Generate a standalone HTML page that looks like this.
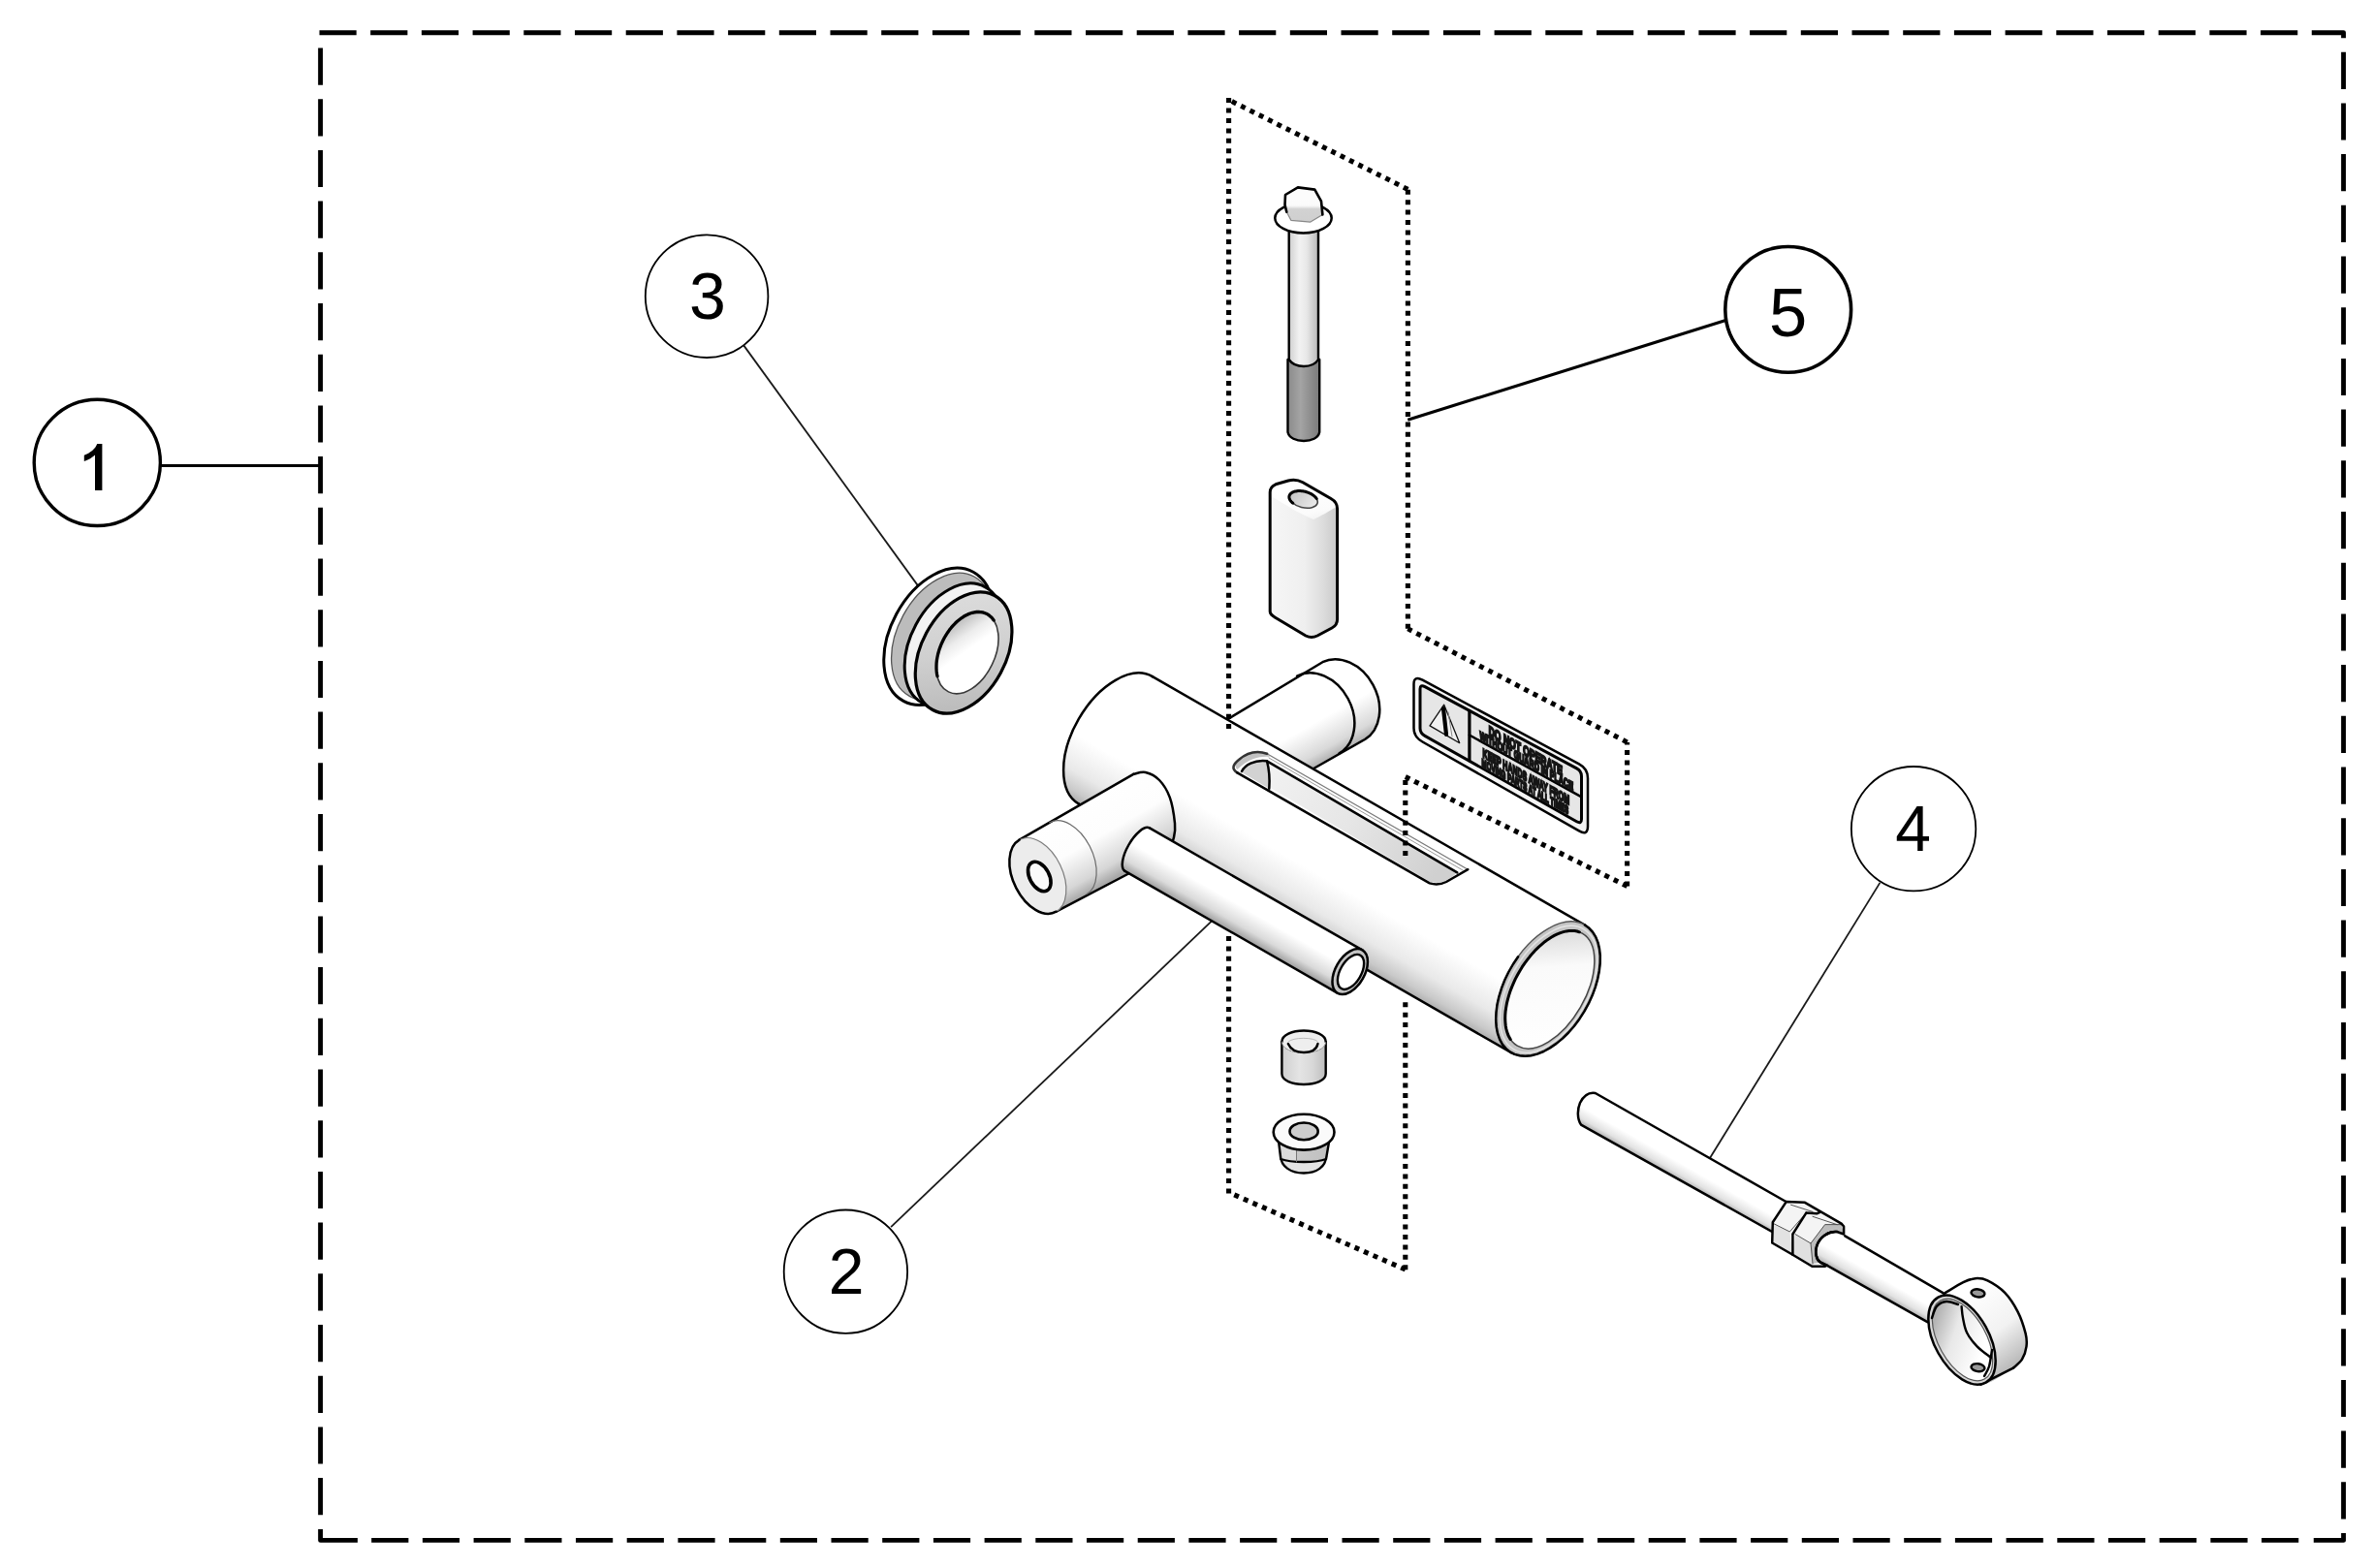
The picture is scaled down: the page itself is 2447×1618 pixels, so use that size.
<!DOCTYPE html>
<html><head><meta charset="utf-8"><title>Parts diagram</title>
<style>
html,body{margin:0;padding:0;background:#fff;width:2447px;height:1618px;overflow:hidden}
svg{position:absolute;left:0;top:0;display:block}
</style></head><body>
<svg width="2447" height="1618" viewBox="0 0 2447 1618">
<defs><linearGradient id="gArm" gradientUnits="userSpaceOnUse" x1="1318" y1="716" x2="1362" y2="794"><stop offset="0" stop-color="#fff"/><stop offset="0.5" stop-color="#fff"/><stop offset="0.82" stop-color="#d9d9d9"/><stop offset="1" stop-color="#a0a0a0"/></linearGradient>
<linearGradient id="gMain" gradientUnits="userSpaceOnUse" x1="1188.9" y1="698.1" x2="1112.9" y2="829.7"><stop offset="0" stop-color="#fff"/><stop offset="0.6" stop-color="#fff"/><stop offset="0.82" stop-color="#e9e9e9"/><stop offset="0.94" stop-color="#c9c9c9"/><stop offset="1" stop-color="#adadad"/></linearGradient>
<linearGradient id="gSlot" gradientUnits="userSpaceOnUse" x1="1300" y1="800" x2="1480" y2="905"><stop offset="0" stop-color="#f2f2f2"/><stop offset="0.5" stop-color="#e6e6e6"/><stop offset="1" stop-color="#d0d0d0"/></linearGradient>
<linearGradient id="gIn" gradientUnits="userSpaceOnUse" x1="1557" y1="960.4" x2="1637" y2="1080.4"><stop offset="0" stop-color="#d0d0d0"/><stop offset="0.35" stop-color="#fafafa"/><stop offset="1" stop-color="#ffffff"/></linearGradient>
<linearGradient id="gSide" gradientUnits="userSpaceOnUse" x1="1110" y1="825" x2="1155" y2="903"><stop offset="0" stop-color="#fff"/><stop offset="0.5" stop-color="#fdfdfd"/><stop offset="0.85" stop-color="#d6d6d6"/><stop offset="1" stop-color="#a8a8a8"/></linearGradient>
<linearGradient id="gSmall" gradientUnits="userSpaceOnUse" x1="1185.5" y1="854.2" x2="1160.1" y2="898.6"><stop offset="0" stop-color="#fff"/><stop offset="0.45" stop-color="#fff"/><stop offset="0.8" stop-color="#dadada"/><stop offset="1" stop-color="#9e9e9e"/></linearGradient>
<linearGradient id="gGrF" gradientUnits="userSpaceOnUse" x1="960" y1="620" x2="1035" y2="730"><stop offset="0" stop-color="#dcdcdc"/><stop offset="0.5" stop-color="#cfcfcf"/><stop offset="1" stop-color="#b8b8b8"/></linearGradient>
<linearGradient id="gGrH" gradientUnits="userSpaceOnUse" x1="968" y1="660" x2="995" y2="675"><stop offset="0" stop-color="#bdbdbd"/><stop offset="0.55" stop-color="#ececec"/><stop offset="1" stop-color="#ffffff"/></linearGradient>
<linearGradient id="gShaft" gradientUnits="userSpaceOnUse" x1="1329.7" y1="0" x2="1360" y2="0"><stop offset="0" stop-color="#cfcfcf"/><stop offset="0.35" stop-color="#f2f2f2"/><stop offset="0.6" stop-color="#e8e8e8"/><stop offset="1" stop-color="#b9b9b9"/></linearGradient>
<linearGradient id="gThread" gradientUnits="userSpaceOnUse" x1="1328.5" y1="0" x2="1361.2" y2="0"><stop offset="0" stop-color="#8a8a8a"/><stop offset="0.4" stop-color="#a4a4a4"/><stop offset="1" stop-color="#7a7a7a"/></linearGradient>
<linearGradient id="gHexB" gradientUnits="userSpaceOnUse" x1="0" y1="205" x2="0" y2="229"><stop offset="0" stop-color="#fcfcfc"/><stop offset="0.3" stop-color="#fafafa"/><stop offset="0.45" stop-color="#d2d2d2"/><stop offset="1" stop-color="#cfcfcf"/></linearGradient>
<linearGradient id="gSpc" gradientUnits="userSpaceOnUse" x1="1312" y1="0" x2="1380" y2="0"><stop offset="0" stop-color="#f6f6f6"/><stop offset="0.5" stop-color="#efefef"/><stop offset="0.78" stop-color="#dcdcdc"/><stop offset="1" stop-color="#c8c8c8"/></linearGradient>
<linearGradient id="gSpcT" gradientUnits="userSpaceOnUse" x1="1340" y1="500" x2="1350" y2="540"><stop offset="0" stop-color="#ffffff"/><stop offset="0.75" stop-color="#fbfbfb"/><stop offset="1" stop-color="#f2f2f2"/></linearGradient>
<linearGradient id="gSpcH" gradientUnits="userSpaceOnUse" x1="1332" y1="510" x2="1358" y2="522"><stop offset="0" stop-color="#c4c4c4"/><stop offset="1" stop-color="#ececec"/></linearGradient>
<filter id="gs" x="-10%" y="-10%" width="120%" height="120%"><feColorMatrix type="saturate" values="0"/></filter>
<linearGradient id="gBush" gradientUnits="userSpaceOnUse" x1="1322.4" y1="0" x2="1367.7" y2="0"><stop offset="0" stop-color="#cfcfcf"/><stop offset="0.4" stop-color="#e4e4e4"/><stop offset="0.7" stop-color="#d8d8d8"/><stop offset="1" stop-color="#bdbdbd"/></linearGradient>
<linearGradient id="gNut" gradientUnits="userSpaceOnUse" x1="1319" y1="0" x2="1371" y2="0"><stop offset="0" stop-color="#d8d8d8"/><stop offset="0.35" stop-color="#dcdcdc"/><stop offset="0.36" stop-color="#c8c8c8"/><stop offset="1" stop-color="#c0c0c0"/></linearGradient>
<linearGradient id="gRod" gradientUnits="userSpaceOnUse" x1="1645.8" y1="1128" x2="1628.5" y2="1158.4"><stop offset="0" stop-color="#fff"/><stop offset="0.55" stop-color="#fff"/><stop offset="0.85" stop-color="#e2e2e2"/><stop offset="1" stop-color="#b4b4b4"/></linearGradient>
<linearGradient id="gRod2" gradientUnits="userSpaceOnUse" x1="1903.3" y1="1275.3" x2="1886" y2="1305.7"><stop offset="0" stop-color="#fff"/><stop offset="0.55" stop-color="#fff"/><stop offset="0.85" stop-color="#e2e2e2"/><stop offset="1" stop-color="#b4b4b4"/></linearGradient>
<linearGradient id="gRingB" gradientUnits="userSpaceOnUse" x1="2035" y1="1330" x2="2095" y2="1410"><stop offset="0" stop-color="#ffffff"/><stop offset="0.5" stop-color="#f2f2f2"/><stop offset="1" stop-color="#a9a9a9"/></linearGradient>
<linearGradient id="gRingI" gradientUnits="userSpaceOnUse" x1="1995" y1="1350" x2="2040" y2="1400"><stop offset="0" stop-color="#9c9c9c"/><stop offset="0.5" stop-color="#e8e8e8"/><stop offset="1" stop-color="#ffffff"/></linearGradient></defs>
<path d="M329.5,33.8 L367.7,33.8 M382.2,33.8 L420.4,33.8 M434.9,33.8 L473.1,33.8 M487.6,33.8 L525.8,33.8 M540.3,33.8 L578.5,33.8 M593,33.8 L631.2,33.8 M645.7,33.8 L683.9,33.8 M698.4,33.8 L736.6,33.8 M751.1,33.8 L789.3,33.8 M803.8,33.8 L842,33.8 M856.5,33.8 L894.7,33.8 M909.2,33.8 L947.4,33.8 M961.9,33.8 L1000.1,33.8 M1014.6,33.8 L1052.8,33.8 M1067.3,33.8 L1105.5,33.8 M1120,33.8 L1158.2,33.8 M1172.7,33.8 L1210.9,33.8 M1225.4,33.8 L1263.6,33.8 M1278.1,33.8 L1316.3,33.8 M1330.8,33.8 L1369,33.8 M1383.5,33.8 L1421.7,33.8 M1436.2,33.8 L1474.4,33.8 M1488.9,33.8 L1527.1,33.8 M1541.6,33.8 L1579.8,33.8 M1594.3,33.8 L1632.5,33.8 M1647,33.8 L1685.2,33.8 M1699.7,33.8 L1737.9,33.8 M1752.4,33.8 L1790.6,33.8 M1805.1,33.8 L1843.3,33.8 M1857.8,33.8 L1896,33.8 M1910.5,33.8 L1948.7,33.8 M1963.2,33.8 L2001.4,33.8 M2015.9,33.8 L2054.1,33.8 M2068.6,33.8 L2106.8,33.8 M2121.3,33.8 L2159.5,33.8 M2174,33.8 L2212.2,33.8 M2226.7,33.8 L2264.9,33.8 M2279.4,33.8 L2317.6,33.8 M2332.1,33.8 L2370.3,33.8 M2384.8,33.8 L2417.6,33.8 L2417.6,39.2 M2417.6,53.7 L2417.6,91.9 M2417.6,106.4 L2417.6,144.6 M2417.6,159.1 L2417.6,197.3 M2417.6,211.8 L2417.6,250 M2417.6,264.5 L2417.6,302.7 M2417.6,317.2 L2417.6,355.4 M2417.6,369.9 L2417.6,408.1 M2417.6,422.6 L2417.6,460.8 M2417.6,475.3 L2417.6,513.5 M2417.6,528 L2417.6,566.2 M2417.6,580.7 L2417.6,618.9 M2417.6,633.4 L2417.6,671.6 M2417.6,686.1 L2417.6,724.3 M2417.6,738.8 L2417.6,777 M2417.6,791.5 L2417.6,829.7 M2417.6,844.2 L2417.6,882.4 M2417.6,896.9 L2417.6,935.1 M2417.6,949.6 L2417.6,987.8 M2417.6,1002.3 L2417.6,1040.5 M2417.6,1055 L2417.6,1093.2 M2417.6,1107.7 L2417.6,1145.9 M2417.6,1160.4 L2417.6,1198.6 M2417.6,1213.1 L2417.6,1251.3 M2417.6,1265.8 L2417.6,1304 M2417.6,1318.5 L2417.6,1356.7 M2417.6,1371.2 L2417.6,1409.4 M2417.6,1423.9 L2417.6,1462.1 M2417.6,1476.6 L2417.6,1514.8 M2417.6,1529.3 L2417.6,1567.5 M2417.6,1582 L2417.6,1589.4 L2386.8,1589.4 M383.2,1589.4 L421.4,1589.4 M435.9,1589.4 L474.1,1589.4 M488.6,1589.4 L526.8,1589.4 M541.3,1589.4 L579.5,1589.4 M594,1589.4 L632.2,1589.4 M646.7,1589.4 L684.9,1589.4 M699.4,1589.4 L737.6,1589.4 M752.1,1589.4 L790.3,1589.4 M804.8,1589.4 L843,1589.4 M857.5,1589.4 L895.7,1589.4 M910.2,1589.4 L948.4,1589.4 M962.9,1589.4 L1001.1,1589.4 M1015.6,1589.4 L1053.8,1589.4 M1068.3,1589.4 L1106.5,1589.4 M1121,1589.4 L1159.2,1589.4 M1173.7,1589.4 L1211.9,1589.4 M1226.4,1589.4 L1264.6,1589.4 M1279.1,1589.4 L1317.3,1589.4 M1331.8,1589.4 L1370,1589.4 M1384.5,1589.4 L1422.7,1589.4 M1437.2,1589.4 L1475.4,1589.4 M1489.9,1589.4 L1528.1,1589.4 M1542.6,1589.4 L1580.8,1589.4 M1595.3,1589.4 L1633.5,1589.4 M1648,1589.4 L1686.2,1589.4 M1700.7,1589.4 L1738.9,1589.4 M1753.4,1589.4 L1791.6,1589.4 M1806.1,1589.4 L1844.3,1589.4 M1858.8,1589.4 L1897,1589.4 M1911.5,1589.4 L1949.7,1589.4 M1964.2,1589.4 L2002.4,1589.4 M2016.9,1589.4 L2055.1,1589.4 M2069.6,1589.4 L2107.8,1589.4 M2122.3,1589.4 L2160.5,1589.4 M2175,1589.4 L2213.2,1589.4 M2227.7,1589.4 L2265.9,1589.4 M2280.4,1589.4 L2318.6,1589.4 M2333.1,1589.4 L2371.3,1589.4 M368.9,1589.4 L330.6,1589.4 L330.6,1578 M330.6,49.5 L330.6,87.7 M330.6,102.2 L330.6,140.4 M330.6,154.9 L330.6,193.1 M330.6,207.6 L330.6,245.8 M330.6,260.3 L330.6,298.5 M330.6,313 L330.6,351.2 M330.6,365.7 L330.6,403.9 M330.6,418.4 L330.6,456.6 M330.6,471.1 L330.6,509.3 M330.6,523.8 L330.6,562 M330.6,576.5 L330.6,614.7 M330.6,629.2 L330.6,667.4 M330.6,681.9 L330.6,720.1 M330.6,734.6 L330.6,772.8 M330.6,787.3 L330.6,825.5 M330.6,840 L330.6,878.2 M330.6,892.7 L330.6,930.9 M330.6,945.4 L330.6,983.6 M330.6,998.1 L330.6,1036.3 M330.6,1050.8 L330.6,1089 M330.6,1103.5 L330.6,1141.7 M330.6,1156.2 L330.6,1194.4 M330.6,1208.9 L330.6,1247.1 M330.6,1261.6 L330.6,1299.8 M330.6,1314.3 L330.6,1352.5 M330.6,1367 L330.6,1405.2 M330.6,1419.7 L330.6,1457.9 M330.6,1472.4 L330.6,1510.6 M330.6,1525.1 L330.6,1563.3" fill="none" stroke="#000" stroke-width="4.9" stroke-linejoin="round"/>
<line x1="166" y1="480.5" x2="330" y2="480.5" stroke="#000" stroke-width="3"/>
<line x1="767.4" y1="356.6" x2="950.6" y2="609.4" stroke="#1a1a1a" stroke-width="1.8"/>
<line x1="1779.5" y1="330.7" x2="1452.3" y2="433.3" stroke="#000" stroke-width="3"/>
<line x1="1939.4" y1="910.9" x2="1761.8" y2="1198.5" stroke="#1a1a1a" stroke-width="1.8"/>
<line x1="919.1" y1="1266.2" x2="1256.6" y2="944.2" stroke="#1a1a1a" stroke-width="1.8"/>
<circle cx="100.3" cy="477.4" r="65.1" fill="#fff" stroke="#000" stroke-width="3.4"/>
<text x="96" y="505.9" font-family="Liberation Sans, sans-serif" font-size="66" text-anchor="middle" fill="#000"></text>
<path d="M98,505.9 L105.4,505.9 L105.4,458 L100.2,458 C98.5,463 93,467.5 86.8,469.8 L86.8,476 C91,474.6 95.5,472 98,469.5 Z" fill="#000"/>
<circle cx="729.1" cy="305.7" r="63.3" fill="#fff" stroke="#000" stroke-width="1.8"/>
<text x="729.8" y="329.1" font-family="Liberation Sans, sans-serif" font-size="68" text-anchor="middle" fill="#000">3</text>
<circle cx="1844.7" cy="319.4" r="64.9" fill="#fff" stroke="#000" stroke-width="3.6"/>
<text x="1844.5" y="347.3" font-family="Liberation Sans, sans-serif" font-size="70.5" text-anchor="middle" fill="#000">5</text>
<circle cx="1974.1" cy="855.2" r="64.2" fill="#fff" stroke="#000" stroke-width="1.8"/>
<text x="1973.5" y="878.2" font-family="Liberation Sans, sans-serif" font-size="66" text-anchor="middle" fill="#000">4</text>
<circle cx="872.4" cy="1312.2" r="63.7" fill="#fff" stroke="#000" stroke-width="1.8"/>
<text x="873" y="1334.7" font-family="Liberation Sans, sans-serif" font-size="66" text-anchor="middle" fill="#000">2</text>
<path d="M1266.8,742 L1364.4,683.2 A35.8,45.5 -28.6 0 1 1408,763 L1350,796 L1300,775 Z" fill="url(#gArm)" stroke="none" stroke-width="2.6" stroke-linejoin="round" stroke-linecap="round"/>
<path d="M1266.8,742 L1364.4,683.2 A35.8,45.5 -28.6 0 1 1408,763 L1350,796" fill="none" stroke="#000" stroke-width="2.5" stroke-linejoin="round" stroke-linecap="round"/>
<path d="M1338.1,697.5 A35.8,45.5 -28.6 0 1 1381.6,777.4" fill="none" stroke="#000" stroke-width="2.5" stroke-linejoin="round" stroke-linecap="round"/>
<path d="M1188.9,698.1 L1635,954.6 A44,76 30 0 1 1635.1,1042.4 A44,76 30 0 1 1559,1086.2 L1112.9,829.7 A44,76 30 0 1 1112.8,741.9 A44,76 30 0 1 1188.9,698.1 Z" fill="url(#gMain)" stroke="none" stroke-width="2.6" stroke-linejoin="round" stroke-linecap="round"/>
<path d="M1188.9,698.1 L1635,954.6" fill="none" stroke="#000" stroke-width="2.5" stroke-linejoin="round" stroke-linecap="round"/>
<path d="M1112.9,829.7 L1559,1086.2" fill="none" stroke="#000" stroke-width="2.5" stroke-linejoin="round" stroke-linecap="round"/>
<path d="M1188.9,698.1 A44,76 30 0 0 1112.8,741.9 A44,76 30 0 0 1112.9,829.7" fill="none" stroke="#000" stroke-width="2.5" stroke-linejoin="round" stroke-linecap="round"/>
<path d="M1276.4,797.4 C1270,793 1272,789 1278,784 C1286,777 1296,774 1307.1,777.7 L1514.3,897.2 C1508,904 1498,912 1483.6,912.5 C1480,912.5 1477,912 1474.8,911.4 Z" fill="#fff" stroke="none" stroke-width="2.6" stroke-linejoin="round" stroke-linecap="round"/>
<path d="M1276.4,794 C1272,790 1276,784 1284,779 C1292,775 1300,774 1307.1,777.7 L1310,781 C1300,780 1290,783 1281,790 Z" fill="#c2c2c2" stroke="none" stroke-width="2.6" stroke-linejoin="round" stroke-linecap="round"/>
<path d="M1281,795.5 C1288,787 1296,784 1307,785.3 L1503.3,900.4 C1497,906 1490,910 1483.6,911 C1480,911 1477,910.5 1474.8,909.8 Z" fill="url(#gSlot)" stroke="none" stroke-width="2.6" stroke-linejoin="round" stroke-linecap="round"/>
<path d="M1307,785.3 C1309.5,795 1310,805 1309.3,813.8 L1281,797 C1284,790 1294,784 1307,785.3 Z" fill="#d2d2d2" stroke="none" stroke-width="2.6" stroke-linejoin="round" stroke-linecap="round"/>
<path d="M1307.1,777.7 L1514.3,897.2" fill="none" stroke="#7a7a7a" stroke-width="1.3" stroke-linejoin="round" stroke-linecap="round"/>
<path d="M1309,782 L1509,898" fill="none" stroke="#9a9a9a" stroke-width="1" stroke-linejoin="round" stroke-linecap="round"/>
<path d="M1281,796 C1284,790 1294,783.5 1307,785.3 L1503.3,900.4" fill="none" stroke="#000" stroke-width="2.5" stroke-linejoin="round" stroke-linecap="round"/>
<path d="M1307,785.3 C1309.5,795 1310,805 1309.3,813.8" fill="none" stroke="#000" stroke-width="2.5" stroke-linejoin="round" stroke-linecap="round"/>
<path d="M1276.4,797.4 C1270,793 1272,789 1278,784 C1286,777 1296,774 1307.1,777.7" fill="none" stroke="#333" stroke-width="2.6" stroke-linejoin="round" stroke-linecap="round"/>
<path d="M1276.4,797.4 L1474.8,911.4 C1480,913 1486,913 1492,910 L1514.3,897.2" fill="none" stroke="#000" stroke-width="2.5" stroke-linejoin="round" stroke-linecap="round"/>
<ellipse cx="1597" cy="1020.4" rx="44" ry="76" transform="rotate(30 1597 1020.4)" fill="#c4c4c4" stroke="#555" stroke-width="1.4"/>
<path d="M1635,954.6 L1639.4,957.8 L1643.1,961.9 L1646.2,966.9 L1648.5,972.6 L1650,979.1 L1650.8,986.2 L1650.7,993.8 L1649.8,1001.9 L1648.2,1010.1 L1645.8,1018.6 L1642.7,1027.1 L1638.9,1035.4 L1634.4,1043.6 L1629.4,1051.4 L1624,1058.7 L1618.1,1065.5 L1611.9,1071.6 L1605.5,1076.9 L1598.9,1081.4 L1592.4,1085 L1585.9,1087.6 L1579.5,1089.2 L1573.4,1089.8 L1567.7,1089.3 L1562.4,1087.9 L1557.7,1085.4 L1553.5,1081.9 L1549.9,1077.6 L1547.1,1072.4 L1545,1066.4 L1543.7,1059.7 L1543.2,1052.4 L1543.5,1044.7 L1544.5,1036.6 L1546.4,1028.3 L1549,1019.8 L1552.3,1011.3 L1556.3,1003 L1560.9,995 L1566.1,987.3" fill="none" stroke="#000" stroke-width="2.5" stroke-linejoin="round" stroke-linecap="round"/>
<ellipse cx="1597.6" cy="1020.7" rx="40.4" ry="71.8" transform="rotate(30 1597.6 1020.7)" fill="none" stroke="#e2e2e2" stroke-width="1.6"/>
<ellipse cx="1598.8" cy="1021.2" rx="36.5" ry="67" transform="rotate(30 1598.8 1021.2)" fill="url(#gIn)" stroke="#444" stroke-width="1.5"/>
<path d="M1558.2,1072.5 L1556.8,1070.1 L1555.6,1067.5 L1554.6,1064.6 L1553.8,1061.5 L1553.2,1058.2 L1552.9,1054.8 L1552.7,1051.2 L1552.8,1047.4 L1553.1,1043.5 L1553.7,1039.5 L1554.4,1035.4 L1555.4,1031.3 L1556.6,1027.1 L1558,1022.8 L1559.6,1018.6 L1561.4,1014.3 L1563.3,1010.1 L1565.5,1006 L1567.8,1001.9 L1570.2,997.9 L1572.8,994.1 L1575.6,990.4 L1578.4,986.8 L1581.3,983.4 L1584.3,980.1 L1587.4,977.1 L1590.6,974.3 L1593.7,971.7 L1596.9,969.4 L1600.2,967.3 L1603.4,965.4 L1606.6,963.9 L1609.7,962.6 L1612.8,961.6 L1615.8,960.9 L1618.8,960.5 L1621.6,960.4 L1624.4,960.6 L1627,961 L1629.4,961.8" fill="none" stroke="#000" stroke-width="3" stroke-linejoin="round" stroke-linecap="round"/>
<path d="M1051.6,866.7 L1169.3,798.8 C1171.4,798.5 1177.3,796 1181.8,797 C1186.2,798 1191.8,800.7 1196,805 C1200.2,809.3 1204.1,815.5 1206.8,822.9 C1209.5,830.3 1211.3,842.8 1212,849.6 C1212.7,856.5 1212.2,858.9 1211,864 C1209.8,869.1 1206,877.3 1205,880 L1164,901.4 L1089.6,940.7 Z" fill="url(#gSide)" stroke="none" stroke-width="2.6" stroke-linejoin="round" stroke-linecap="round"/>
<path d="M1051.6,866.7 L1169.3,798.8" fill="none" stroke="#000" stroke-width="2.5" stroke-linejoin="round" stroke-linecap="round"/>
<path d="M1169.3,798.8 C1171.4,798.5 1177.3,796 1181.8,797 C1186.2,798 1191.8,800.7 1196,805 C1200.2,809.3 1204.1,815.5 1206.8,822.9 C1209.5,830.3 1211.3,842.8 1212,849.6 C1212.7,856.5 1212.2,858.9 1211,864 C1209.8,869.1 1206,877.3 1205,880" fill="none" stroke="#000" stroke-width="2.5" stroke-linejoin="round" stroke-linecap="round"/>
<path d="M1089.6,940.7 L1170,898.5" fill="none" stroke="#000" stroke-width="2.5" stroke-linejoin="round" stroke-linecap="round"/>
<path d="M1082.8,848.8 A25.6,41.6 -25.7 0 1 1120.9,922.8" fill="none" stroke="#6a6a6a" stroke-width="1.2" stroke-linejoin="round" stroke-linecap="round"/>
<ellipse cx="1070.6" cy="903.7" rx="25.6" ry="41.6" transform="rotate(-25.7 1070.6 903.7)" fill="#ececec" stroke="#7d7d7d" stroke-width="1.2"/>
<path d="M1051.6,866.7 A25.6,41.6 -25.7 0 0 1089.6,940.7" fill="none" stroke="#000" stroke-width="2.5" stroke-linejoin="round" stroke-linecap="round"/>
<ellipse cx="1072.3" cy="904.5" rx="10" ry="16.4" transform="rotate(-28.7 1072.3 904.5)" fill="#fafafa" stroke="#000" stroke-width="3.6"/>
<path d="M1185.5,854.2 L1405.4,980.4 A15,25.6 29.9 0 1 1380,1024.8 L1160.1,898.6 A10,25.6 29.9 0 1 1185.5,854.2 Z" fill="url(#gSmall)" stroke="none" stroke-width="2.6" stroke-linejoin="round" stroke-linecap="round"/>
<path d="M1185.5,854.2 L1405.4,980.4" fill="none" stroke="#000" stroke-width="2.5" stroke-linejoin="round" stroke-linecap="round"/>
<path d="M1160.1,898.6 L1380,1024.8" fill="none" stroke="#000" stroke-width="2.5" stroke-linejoin="round" stroke-linecap="round"/>
<path d="M1185.5,854.2 A10,25.6 29.9 0 0 1160.1,898.6" fill="none" stroke="#000" stroke-width="2.5" stroke-linejoin="round" stroke-linecap="round"/>
<ellipse cx="1392.7" cy="1002.6" rx="15" ry="25.6" transform="rotate(29.9 1392.7 1002.6)" fill="#c4c4c4" stroke="#000" stroke-width="2.5"/>
<ellipse cx="1393.5" cy="1002.9" rx="10.8" ry="19.8" transform="rotate(29.9 1393.5 1002.9)" fill="#fff" stroke="#000" stroke-width="2.4"/>
<ellipse cx="968" cy="656.8" rx="49.1" ry="75.7" transform="rotate(28.4 968 656.8)" fill="#fff" stroke="#000" stroke-width="3"/>
<ellipse cx="971.6" cy="656.7" rx="45.4" ry="70.1" transform="rotate(28.4 971.6 656.7)" fill="#bcbcbc" stroke="#555" stroke-width="1.3"/>
<ellipse cx="983.7" cy="665.4" rx="44.1" ry="68" transform="rotate(28.4 983.7 665.4)" fill="#f2f2f2" stroke="#000" stroke-width="3"/>
<ellipse cx="994.1" cy="673.5" rx="43.5" ry="67.1" transform="rotate(28.4 994.1 673.5)" fill="url(#gGrF)" stroke="#000" stroke-width="3.2"/>
<ellipse cx="998" cy="673.6" rx="28.2" ry="44.8" transform="rotate(25.9 998 673.6)" fill="url(#gGrH)" stroke="#3a3a3a" stroke-width="1.6"/>
<path d="M1025.1,639.9 L1023.8,638.2 L1022.4,636.7 L1020.9,635.4 L1019.2,634.2 L1017.5,633.2 L1015.6,632.5 L1013.7,631.9 L1011.7,631.6 L1009.6,631.5 L1007.4,631.5 L1005.3,631.8 L1003,632.3 L1000.8,633 L998.5,633.9 L996.3,635 L994,636.3 L991.8,637.8 L989.6,639.5 L987.4,641.3 L985.3,643.3 L983.3,645.4 L981.3,647.7 L979.4,650.1 L977.6,652.7 L975.9,655.3 L974.3,658 L972.9,660.8 L971.5,663.7 L970.3,666.6 L969.2,669.6 L968.3,672.5 L967.5,675.5 L966.9,678.5 L966.4,681.4 L966.1,684.3 L966,687.2 L966,690 L966.2,692.7 L966.5,695.3 L967,697.8" fill="none" stroke="#000" stroke-width="3.3" stroke-linejoin="round" stroke-linecap="round"/>
<path d="M1328.5,371 L1328.5,446 C1330,452 1337,455 1345,455 C1353,455 1360,452 1361.2,446 L1361.2,371 Z" fill="url(#gThread)" stroke="#000" stroke-width="2.4" stroke-linejoin="round" stroke-linecap="round"/>
<path d="M1329.7,236 L1329.7,371 C1333,376 1339,378 1345,378 C1351,378 1357,376 1360,371 L1360,236 Z" fill="url(#gShaft)" stroke="#000" stroke-width="2.4" stroke-linejoin="round" stroke-linecap="round"/>
<ellipse cx="1344.5" cy="225" rx="29.2" ry="15.5" transform="rotate(0 1344.5 225)" fill="#fff" stroke="#000" stroke-width="2.5"/>
<path d="M1326,201 L1338.9,193.4 L1356.3,195.6 L1363,207.7 L1364.4,221.5 L1351.9,229.1 L1331.8,227.3 L1327.3,218.8 L1325.5,211.3 Z" fill="url(#gHexB)" stroke="#888" stroke-width="1.2" stroke-linejoin="round" stroke-linecap="round"/>
<path d="M1327.3,218.8 L1325.5,211.3 L1326,201 L1338.9,193.4 L1356.3,195.6 L1363,207.7 L1364.4,221.5" fill="none" stroke="#000" stroke-width="2.6" stroke-linejoin="round" stroke-linecap="round"/>
<path d="M1310.2,631 L1310.2,508 C1310.2,504 1312,501.5 1316,499.8 L1329,496 C1334,494.6 1339,495 1344,497.8 L1373,514.5 C1377.5,517 1379.6,520 1379.6,525 L1379.6,639 C1379.6,643 1378,646 1374,648 L1359,656 C1355,658 1351,658 1347,656 L1316,637.5 C1312,635 1310.2,634 1310.2,631 Z" fill="url(#gSpc)" stroke="none" stroke-width="2.6" stroke-linejoin="round" stroke-linecap="round"/>
<path d="M1311,508 C1311,504 1313,502 1316,500.5 L1329,497 C1334,495.5 1339,496 1344,498.5 L1373,515.5 C1377,518 1378.5,520 1378.8,523 C1372,527 1362,533 1355,536 C1340,530 1325,520 1311,512 Z" fill="url(#gSpcT)" stroke="none" stroke-width="2.6" stroke-linejoin="round" stroke-linecap="round"/>
<path d="M1310.2,631 L1310.2,508 C1310.2,504 1312,501.5 1316,499.8 L1329,496 C1334,494.6 1339,495 1344,497.8 L1373,514.5 C1377.5,517 1379.6,520 1379.6,525 L1379.6,639 C1379.6,643 1378,646 1374,648 L1359,656 C1355,658 1351,658 1347,656 L1316,637.5 C1312,635 1310.2,634 1310.2,631 Z" fill="none" stroke="#000" stroke-width="3" stroke-linejoin="round" stroke-linecap="round"/>
<ellipse cx="1344.6" cy="515.4" rx="15" ry="8.3" transform="rotate(14 1344.6 515.4)" fill="url(#gSpcH)" stroke="#444" stroke-width="1.6"/>
<path d="M1333.7,519.2 L1332.9,518.5 L1332.2,517.8 L1331.5,517 L1331,516.3 L1330.6,515.5 L1330.2,514.7 L1330,514 L1329.9,513.2 L1329.9,512.5 L1330,511.8 L1330.3,511.1 L1330.6,510.4 L1331.1,509.8 L1331.6,509.2 L1332.3,508.7 L1333,508.2 L1333.8,507.8 L1334.7,507.4 L1335.7,507.1 L1336.8,506.9 L1337.9,506.7 L1339.1,506.6 L1340.3,506.6 L1341.5,506.6 L1342.8,506.7 L1344.1,506.8 L1345.3,507.1 L1346.6,507.3 L1347.9,507.7 L1349.1,508.1 L1350.3,508.6 L1351.5,509.1 L1352.6,509.6 L1353.6,510.2 L1354.6,510.9 L1355.5,511.6 L1356.3,512.3 L1357,513 L1357.7,513.8 L1358.2,514.5" fill="none" stroke="#000" stroke-width="3" stroke-linejoin="round" stroke-linecap="round"/>
<path d="M1458.5,705.9 Q1458.5,696.9 1467.5,701.7 L1629,788.3 Q1638,793.1 1638,802.9 L1638,852.7 Q1638,862.5 1629,857.4 L1467.5,765.5 Q1458.5,760.4 1458.5,751.4 Z" fill="#f4f4f4" stroke="#000" stroke-width="2.5" stroke-linejoin="round" stroke-linecap="round"/>
<path d="M1465,710.9 Q1465,705.9 1470,708.6 L1626.5,792.9 Q1631.5,795.6 1631.5,801 L1631.5,845.2 Q1631.5,850.6 1626.5,847.8 L1470,759.4 Q1465,756.6 1465,751.5 Z" fill="#e6e6e6" stroke="#000" stroke-width="3" stroke-linejoin="round" stroke-linecap="round"/>
<path d="M1515.9,733.3 L1515.9,784.8" fill="none" stroke="#000" stroke-width="3.2" stroke-linejoin="round" stroke-linecap="round"/>
<path d="M1515.9,758.5 L1631.5,822.3" fill="none" stroke="#000" stroke-width="2.5" stroke-linejoin="round" stroke-linecap="round"/>
<path d="M1475,748.9 L1489.7,727.2 L1505.7,766.7 Z" fill="#f2f2f2" stroke="#111" stroke-width="1.3" stroke-linejoin="round" stroke-linecap="round"/>
<path d="M1489,731 L1492,757.8" fill="none" stroke="#000" stroke-width="4.2" stroke-linejoin="round" stroke-linecap="round"/>
<path d="M1494,735 L1498,760" fill="none" stroke="#888" stroke-width="1" stroke-linejoin="round" stroke-linecap="round"/>
<g filter="url(#gs)">
<text transform="matrix(1 0.551 0 1 1535.7 758.6)" x="0" y="0" font-family="Liberation Sans, sans-serif" font-weight="bold" font-size="14.1" textLength="76.3" lengthAdjust="spacingAndGlyphs" fill="#151515" stroke="#151515" stroke-width="2.3">DO NOT OPERATE</text>
<text transform="matrix(1 0.551 0 1 1526.5 762.9)" x="0" y="0" font-family="Liberation Sans, sans-serif" font-weight="bold" font-size="12.4" textLength="96.5" lengthAdjust="spacingAndGlyphs" fill="#151515" stroke="#151515" stroke-width="2.3">WITHOUT GUARD IN PLACE</text>
<text transform="matrix(1 0.551 0 1 1529.6 781.2)" x="0" y="0" font-family="Liberation Sans, sans-serif" font-weight="bold" font-size="13.1" textLength="89.4" lengthAdjust="spacingAndGlyphs" fill="#151515" stroke="#151515" stroke-width="2.3">KEEP HANDS AWAY FROM</text>
<text transform="matrix(1 0.551 0 1 1528.6 790.9)" x="0" y="0" font-family="Liberation Sans, sans-serif" font-weight="bold" font-size="11.8" textLength="89.4" lengthAdjust="spacingAndGlyphs" fill="#151515" stroke="#151515" stroke-width="2.3">MOVING PARTS AT ALL TIMES</text>
</g>
<path d="M1322.4,1075 L1322.4,1108 C1322.4,1115 1333,1119 1345,1119 C1357,1119 1367.7,1115 1367.7,1108 L1367.7,1075 Z" fill="url(#gBush)" stroke="#000" stroke-width="2.4" stroke-linejoin="round" stroke-linecap="round"/>
<ellipse cx="1345" cy="1075" rx="22.6" ry="11.5" transform="rotate(0 1345 1075)" fill="#eeeeee" stroke="none" stroke-width="0"/>
<path d="M1322.4,1075 C1322.4,1068 1333,1063.5 1345,1063.5 C1357,1063.5 1367.7,1068 1367.7,1075" fill="none" stroke="#000" stroke-width="2.4" stroke-linejoin="round" stroke-linecap="round"/>
<path d="M1322.4,1075 C1322.4,1082 1333,1086.5 1345,1086.5 C1357,1086.5 1367.7,1082 1367.7,1075" fill="none" stroke="#8a8a8a" stroke-width="1" stroke-linejoin="round" stroke-linecap="round" stroke-dasharray="2.5 1.5"/>
<path d="M1328.8,1077 C1332,1084 1339,1086 1345,1086 C1351,1086 1358,1084 1359.5,1077" fill="none" stroke="#000" stroke-width="2.4" stroke-linejoin="round" stroke-linecap="round"/>
<path d="M1329,1075 C1333,1070 1357,1070 1359.5,1075" fill="none" stroke="#bbb" stroke-width="1" stroke-linejoin="round" stroke-linecap="round"/>
<path d="M1321.3,1193 C1321.3,1204 1332,1210.5 1345,1210.5 C1358,1210.5 1368,1204 1368,1193 Z" fill="#e2e2e2" stroke="#000" stroke-width="2.4" stroke-linejoin="round" stroke-linecap="round"/>
<path d="M1319.1,1178 L1371.1,1178 L1368,1196 C1358,1200 1332,1200 1321.3,1196 Z" fill="url(#gNut)" stroke="#000" stroke-width="2.4" stroke-linejoin="round" stroke-linecap="round"/>
<path d="M1337.5,1184 L1337.5,1199" fill="none" stroke="#777" stroke-width="1" stroke-linejoin="round" stroke-linecap="round"/>
<ellipse cx="1345.1" cy="1168.2" rx="31.4" ry="18.4" transform="rotate(0 1345.1 1168.2)" fill="#fafafa" stroke="#000" stroke-width="2.6"/>
<ellipse cx="1345.1" cy="1167.4" rx="14.6" ry="8.9" transform="rotate(0 1345.1 1167.4)" fill="#cdcdcd" stroke="#000" stroke-width="2.6"/>
<path d="M1645.8,1128 L1846,1242 L1830,1272 L1631,1160.6 C1627,1155 1627,1145 1630,1138 C1634,1130 1640,1127 1645.8,1128 Z" fill="url(#gRod)" stroke="#000" stroke-width="2.5" stroke-linejoin="round" stroke-linecap="round"/>
<path d="M1842.7,1240.1 L1861.5,1240.7 L1899.6,1262.6 L1902.1,1265.5 L1902.1,1273.5 L1895,1271 C1886,1270 1877,1277 1874.2,1285.6 C1872,1293 1874,1300 1877.8,1302.5 L1884.5,1305.6 L1882.7,1306.8 L1869.4,1306.8 L1849.4,1294.7 L1828.2,1282.5 L1828.8,1261.3 Z" fill="#f4f4f4" stroke="none" stroke-width="2.6" stroke-linejoin="round" stroke-linecap="round"/>
<path d="M1829.5,1262.5 L1846.3,1271 L1849.4,1294.7 L1828.2,1282.5 Z" fill="#e2e2e2" stroke="none" stroke-width="2.6" stroke-linejoin="round" stroke-linecap="round"/>
<path d="M1852,1273.5 L1868,1283 L1870,1306 L1849.4,1294.7 Z" fill="#e0e0e0" stroke="none" stroke-width="2.6" stroke-linejoin="round" stroke-linecap="round"/>
<path d="M1868,1283 L1882.7,1263.6 L1899.6,1263.6 L1902.1,1273.5 L1895,1271 C1886,1270 1877,1277 1874.2,1285.6 C1872,1293 1874,1300 1877.8,1302.5 L1870,1304 Z" fill="#bdbdbd" stroke="none" stroke-width="2.6" stroke-linejoin="round" stroke-linecap="round"/>
<path d="M1895,1271 C1886,1270 1877,1277 1874.2,1285.6 C1872,1293 1874,1300 1877.8,1302.5 L1884.5,1305.6 L1990,1366 L2008,1336 Z" fill="url(#gRod2)" stroke="none" stroke-width="2.6" stroke-linejoin="round" stroke-linecap="round"/>
<path d="M1829.5,1262.5 L1846.3,1271 L1863.3,1251.6 M1847.5,1243.2 L1870,1250.4 M1852,1273.5 L1868,1283 L1882.7,1263.6 L1899.6,1263.6 M1868,1283 L1870,1304 M1870,1255.3 L1895,1263.6" fill="none" stroke="#444" stroke-width="0.9" stroke-linejoin="round" stroke-linecap="round"/>
<path d="M1842.7,1240.1 L1861.5,1240.7 L1899.6,1262.6 L1902.1,1265.5 L1902.1,1273.5 L1895,1271 C1886,1270 1877,1277 1874.2,1285.6 C1872,1293 1874,1300 1877.8,1302.5 L1884.5,1305.6 L1882.7,1306.8 L1869.4,1306.8 L1849.4,1294.7 L1828.2,1282.5 L1828.8,1261.3 Z" fill="none" stroke="#000" stroke-width="2.5" stroke-linejoin="round" stroke-linecap="round"/>
<path d="M1863.3,1251.6 L1874.2,1252.3 L1878,1250.5 M1863.3,1251.6 L1849.4,1273.5 L1849.4,1294.7" fill="none" stroke="#000" stroke-width="2.5" stroke-linejoin="round" stroke-linecap="round"/>
<path d="M1895,1271 C1886,1270 1877,1277 1874.2,1285.6 C1872,1293 1874,1300 1877.8,1302.5 L1884.5,1305.6" fill="none" stroke="#000" stroke-width="2.5" stroke-linejoin="round" stroke-linecap="round"/>
<path d="M1903.3,1275.3 L2005.7,1334.8" fill="none" stroke="#000" stroke-width="2.5" stroke-linejoin="round" stroke-linecap="round"/>
<path d="M1884.5,1305.6 L1988.75,1364.3" fill="none" stroke="#000" stroke-width="2.5" stroke-linejoin="round" stroke-linecap="round"/>
<path d="M2005.7,1334.8 C2004.9,1322 2020,1325.8 2025.4,1323.2 C2030.8,1320.6 2033.7,1319.5 2037.9,1319.2 C2042.1,1318.9 2045.4,1319 2050.4,1321.4 C2055.4,1323.9 2063,1328.5 2068.2,1333.9 C2073.4,1339.3 2078,1346.6 2081.6,1353.6 C2085.2,1360.6 2088.1,1370 2089.6,1375.9 C2091.1,1381.9 2091.1,1384.8 2090.5,1389.3 C2089.9,1393.8 2088.2,1399 2086,1402.7 C2083.8,1406.4 2084.1,1407.3 2077,1411.6 C2069.9,1415.9 2051,1430.5 2043.2,1428.6 C2035.4,1426.7 2036.2,1415.6 2030,1400 C2023.8,1384.4 2006.5,1347.6 2005.7,1334.8 Z" fill="url(#gRingB)" stroke="none" stroke-width="2.6" stroke-linejoin="round" stroke-linecap="round"/>
<path d="M2005.7,1334.8 C2009,1332.9 2020,1325.8 2025.4,1323.2 C2030.8,1320.6 2033.7,1319.5 2037.9,1319.2 C2042.1,1318.9 2045.4,1319 2050.4,1321.4 C2055.4,1323.9 2063,1328.5 2068.2,1333.9 C2073.4,1339.3 2078,1346.6 2081.6,1353.6 C2085.2,1360.6 2088.1,1370 2089.6,1375.9 C2091.1,1381.9 2091.1,1384.8 2090.5,1389.3 C2089.9,1393.8 2088.2,1399 2086,1402.7 C2083.8,1406.4 2078.5,1410.1 2077,1411.6" fill="none" stroke="#000" stroke-width="2.5" stroke-linejoin="round" stroke-linecap="round"/>
<path d="M2077,1411.6 L2043.2,1428.6" fill="none" stroke="#000" stroke-width="2.5" stroke-linejoin="round" stroke-linecap="round"/>
<ellipse cx="2024" cy="1382.6" rx="28" ry="50.4" transform="rotate(-29.2 2024 1382.6)" fill="#d8d8d8" stroke="#000" stroke-width="2.5"/>
<ellipse cx="2024.5" cy="1382.5" rx="24.5" ry="46.5" transform="rotate(-29.2 2024.5 1382.5)" fill="url(#gRingI)" stroke="#555" stroke-width="1.2"/>
<path d="M1993,1360 C1993.8,1358 1995.5,1350.8 1998,1348 C2000.5,1345.2 2004.3,1343.3 2008,1343 C2011.7,1342.7 2018,1345.5 2020,1346" fill="none" stroke="#000" stroke-width="2.5" stroke-linejoin="round" stroke-linecap="round"/>
<path d="M2023.6,1348.2 C2023.8,1350.2 2024.1,1355.5 2025,1360 C2025.9,1364.5 2026.6,1370.1 2029,1375 C2031.4,1379.9 2035.4,1385 2039.6,1389.3 C2043.8,1393.6 2051.5,1399 2053.9,1400.9" fill="none" stroke="#000" stroke-width="2.4" stroke-linejoin="round" stroke-linecap="round"/>
<path d="M2055,1393 C2054.5,1395.8 2053.3,1405.5 2052,1410 C2050.7,1414.5 2047.8,1418.3 2047,1420" fill="none" stroke="#000" stroke-width="2.4" stroke-linejoin="round" stroke-linecap="round"/>
<ellipse cx="2040.5" cy="1334.4" rx="7" ry="4" transform="rotate(8 2040.5 1334.4)" fill="#999" stroke="#000" stroke-width="2.4"/>
<ellipse cx="2040.5" cy="1411.2" rx="7" ry="4" transform="rotate(8 2040.5 1411.2)" fill="#999" stroke="#000" stroke-width="2.4"/>
<path d="M1267.6,101.1 L1267.6,106.1 M1267.6,111.5 L1267.6,116.5 M1267.6,121.9 L1267.6,126.9 M1267.6,132.4 L1267.6,137.4 M1267.6,142.8 L1267.6,147.8 M1267.6,153.2 L1267.6,158.2 M1267.6,163.6 L1267.6,168.6 M1267.6,174 L1267.6,179 M1267.6,184.5 L1267.6,189.5 M1267.6,194.9 L1267.6,199.9 M1267.6,205.3 L1267.6,210.3 M1267.6,215.7 L1267.6,220.7 M1267.6,226.1 L1267.6,231.1 M1267.6,236.6 L1267.6,241.6 M1267.6,247 L1267.6,252 M1267.6,257.4 L1267.6,262.4 M1267.6,267.8 L1267.6,272.8 M1267.6,278.2 L1267.6,283.2 M1267.6,288.7 L1267.6,293.7 M1267.6,299.1 L1267.6,304.1 M1267.6,309.5 L1267.6,314.5 M1267.6,319.9 L1267.6,324.9 M1267.6,330.3 L1267.6,335.3 M1267.6,340.8 L1267.6,345.8 M1267.6,351.2 L1267.6,356.2 M1267.6,361.6 L1267.6,366.6 M1267.6,372 L1267.6,377 M1267.6,382.4 L1267.6,387.4 M1267.6,392.9 L1267.6,397.9 M1267.6,403.3 L1267.6,408.3 M1267.6,413.7 L1267.6,418.7 M1267.6,424.1 L1267.6,429.1 M1267.6,434.5 L1267.6,439.5 M1267.6,445 L1267.6,450 M1267.6,455.4 L1267.6,460.4 M1267.6,465.8 L1267.6,470.8 M1267.6,476.2 L1267.6,481.2 M1267.6,486.6 L1267.6,491.6 M1267.6,497.1 L1267.6,502.1 M1267.6,507.5 L1267.6,512.5 M1267.6,517.9 L1267.6,522.9 M1267.6,528.3 L1267.6,533.3 M1267.6,538.7 L1267.6,543.7 M1267.6,549.2 L1267.6,554.2 M1267.6,559.6 L1267.6,564.6 M1267.6,570 L1267.6,575 M1267.6,580.4 L1267.6,585.4 M1267.6,590.8 L1267.6,595.8 M1267.6,601.3 L1267.6,606.3 M1267.6,611.7 L1267.6,616.7 M1267.6,622.1 L1267.6,627.1 M1267.6,632.5 L1267.6,637.5 M1267.6,642.9 L1267.6,647.9 M1267.6,653.4 L1267.6,658.4 M1267.6,663.8 L1267.6,668.8 M1267.6,674.2 L1267.6,679.2 M1267.6,684.6 L1267.6,689.6 M1267.6,695 L1267.6,700 M1267.6,705.5 L1267.6,710.5 M1267.6,715.9 L1267.6,720.9 M1267.6,726.3 L1267.6,731.3 M1267.6,736.7 L1267.6,741.7 M1267.6,747.1 L1267.6,752.1 M1267.6,966 L1267.6,971 M1267.6,976.4 L1267.6,981.4 M1267.6,986.8 L1267.6,991.8 M1267.6,997.2 L1267.6,1002.2 M1267.6,1007.6 L1267.6,1012.6 M1267.6,1018.1 L1267.6,1023.1 M1267.6,1028.5 L1267.6,1033.5 M1267.6,1038.9 L1267.6,1043.9 M1267.6,1049.3 L1267.6,1054.3 M1267.6,1059.7 L1267.6,1064.7 M1267.6,1070.2 L1267.6,1075.2 M1267.6,1080.6 L1267.6,1085.6 M1267.6,1091 L1267.6,1096 M1267.6,1101.4 L1267.6,1106.4 M1267.6,1111.8 L1267.6,1116.8 M1267.6,1122.3 L1267.6,1127.3 M1267.6,1132.7 L1267.6,1137.7 M1267.6,1143.1 L1267.6,1148.1 M1267.6,1153.5 L1267.6,1158.5 M1267.6,1163.9 L1267.6,1168.9 M1267.6,1174.4 L1267.6,1179.4 M1267.6,1184.8 L1267.6,1189.8 M1267.6,1195.2 L1267.6,1200.2 M1267.6,1205.6 L1267.6,1210.6 M1267.6,1216 L1267.6,1221 M1267.6,1226.5 L1267.6,1231.5" fill="none" stroke="#000" stroke-width="5.1"/>
<path d="M1449.8,1310 L1445.2,1308 M1440.3,1305.8 L1435.7,1303.8 M1430.7,1301.7 L1426.1,1299.7 M1421.2,1297.5 L1416.6,1295.5 M1411.6,1293.3 L1407,1291.3 M1402.1,1289.1 L1397.5,1287.1 M1392.5,1285 L1387.9,1283 M1383,1280.8 L1378.4,1278.8 M1373.4,1276.6 L1368.8,1274.6 M1363.9,1272.5 L1359.3,1270.5 M1354.3,1268.3 L1349.7,1266.3 M1344.8,1264.1 L1340.2,1262.1 M1335.2,1259.9 L1330.6,1257.9 M1325.7,1255.8 L1321.1,1253.8 M1316.1,1251.6 L1311.5,1249.6 M1306.6,1247.4 L1302,1245.4 M1297,1243.3 L1292.4,1241.3 M1287.5,1239.1 L1282.9,1237.1 M1277.9,1234.9 L1273.3,1232.9" fill="none" stroke="#000" stroke-width="5.1"/>
<path d="M1449.8,1310.2 L1449.8,1305.2 M1449.8,1299.8 L1449.8,1294.8 M1449.8,1289.4 L1449.8,1284.4 M1449.8,1278.9 L1449.8,1273.9 M1449.8,1268.5 L1449.8,1263.5 M1449.8,1258.1 L1449.8,1253.1 M1449.8,1247.7 L1449.8,1242.7 M1449.8,1237.3 L1449.8,1232.3 M1449.8,1226.8 L1449.8,1221.8 M1449.8,1216.4 L1449.8,1211.4 M1449.8,1206 L1449.8,1201 M1449.8,1195.6 L1449.8,1190.6 M1449.8,1185.2 L1449.8,1180.2 M1449.8,1174.7 L1449.8,1169.7 M1449.8,1164.3 L1449.8,1159.3 M1449.8,1153.9 L1449.8,1148.9 M1449.8,1143.5 L1449.8,1138.5 M1449.8,1133.1 L1449.8,1128.1 M1449.8,1122.6 L1449.8,1117.6 M1449.8,1112.2 L1449.8,1107.2 M1449.8,1101.8 L1449.8,1096.8 M1449.8,1091.4 L1449.8,1086.4 M1449.8,1081 L1449.8,1076 M1449.8,1070.5 L1449.8,1065.5 M1449.8,1060.1 L1449.8,1055.1 M1449.8,1049.7 L1449.8,1044.7 M1449.8,1039.3 L1449.8,1034.3 M1449.8,883 L1449.8,878 M1449.8,872.6 L1449.8,867.6 M1449.8,862.1 L1449.8,857.1 M1449.8,851.7 L1449.8,846.7 M1449.8,841.3 L1449.8,836.3 M1449.8,830.9 L1449.8,825.9 M1449.8,820.5 L1449.8,815.5 M1449.8,810 L1449.8,805" fill="none" stroke="#000" stroke-width="5.1"/>
<path d="M1449.8,801.6 L1454.3,803.8 M1459.1,806.2 L1463.6,808.4 M1468.5,810.8 L1473,813 M1477.8,815.4 L1482.3,817.6 M1487.2,820 L1491.7,822.2 M1496.5,824.6 L1501,826.8 M1505.9,829.2 L1510.4,831.5 M1515.2,833.9 L1519.7,836.1 M1524.6,838.5 L1529.1,840.7 M1533.9,843.1 L1538.4,845.3 M1543.3,847.7 L1547.7,849.9 M1552.6,852.3 L1557.1,854.5 M1562,856.9 L1566.4,859.1 M1571.3,861.5 L1575.8,863.7 M1580.6,866.1 L1585.1,868.3 M1590,870.7 L1594.5,872.9 M1599.3,875.3 L1603.8,877.5 M1608.7,879.9 L1613.2,882.1 M1618,884.5 L1622.5,886.7 M1627.4,889.1 L1631.9,891.4 M1636.7,893.8 L1641.2,896 M1646.1,898.4 L1650.5,900.6 M1655.4,903 L1659.9,905.2 M1664.8,907.6 L1669.2,909.8 M1674.1,912.2 L1678.6,914.4" fill="none" stroke="#000" stroke-width="5.1"/>
<path d="M1678.6,914.4 L1678.6,909.4 M1678.6,904 L1678.6,899 M1678.6,893.6 L1678.6,888.6 M1678.6,883.1 L1678.6,878.1 M1678.6,872.7 L1678.6,867.7 M1678.6,862.3 L1678.6,857.3 M1678.6,851.9 L1678.6,846.9 M1678.6,841.5 L1678.6,836.5 M1678.6,831 L1678.6,826 M1678.6,820.6 L1678.6,815.6 M1678.6,810.2 L1678.6,805.2 M1678.6,799.8 L1678.6,794.8 M1678.6,789.4 L1678.6,784.4 M1678.6,778.9 L1678.6,773.9 M1678.6,768.5 L1678.6,765.9" fill="none" stroke="#000" stroke-width="5.1"/>
<path d="M1678.6,765.9 L1674.2,763.6 M1669.3,761.1 L1664.9,758.8 M1660.1,756.3 L1655.7,754 M1650.8,751.5 L1646.4,749.2 M1641.6,746.7 L1637.1,744.4 M1632.3,741.9 L1627.9,739.6 M1623.1,737.2 L1618.6,734.9 M1613.8,732.4 L1609.4,730.1 M1604.6,727.6 L1600.1,725.3 M1595.3,722.8 L1590.9,720.5 M1586.1,718 L1581.6,715.7 M1576.8,713.2 L1572.4,710.9 M1567.6,708.4 L1563.1,706.1 M1558.3,703.6 L1553.9,701.3 M1549.1,698.8 L1544.6,696.5 M1539.8,694 L1535.4,691.7 M1530.5,689.3 L1526.1,687 M1521.3,684.5 L1516.8,682.2 M1512,679.7 L1507.6,677.4 M1502.8,674.9 L1498.3,672.6 M1493.5,670.1 L1489.1,667.8 M1484.3,665.3 L1479.8,663 M1475,660.5 L1470.6,658.2 M1465.8,655.7 L1461.3,653.4 M1456.5,650.9 L1452.4,648.8" fill="none" stroke="#000" stroke-width="5.1"/>
<path d="M1452.4,648.8 L1452.4,643.8 M1452.4,638.4 L1452.4,633.4 M1452.4,628 L1452.4,623 M1452.4,617.5 L1452.4,612.5 M1452.4,607.1 L1452.4,602.1 M1452.4,596.7 L1452.4,591.7 M1452.4,586.3 L1452.4,581.3 M1452.4,575.9 L1452.4,570.9 M1452.4,565.4 L1452.4,560.4 M1452.4,555 L1452.4,550 M1452.4,544.6 L1452.4,539.6 M1452.4,534.2 L1452.4,529.2 M1452.4,523.8 L1452.4,518.8 M1452.4,513.3 L1452.4,508.3 M1452.4,502.9 L1452.4,497.9 M1452.4,492.5 L1452.4,487.5 M1452.4,482.1 L1452.4,477.1 M1452.4,471.7 L1452.4,466.7 M1452.4,461.2 L1452.4,456.2 M1452.4,450.8 L1452.4,445.8 M1452.4,440.4 L1452.4,435.4 M1452.4,430 L1452.4,425 M1452.4,419.6 L1452.4,414.6 M1452.4,409.1 L1452.4,404.1 M1452.4,398.7 L1452.4,393.7 M1452.4,388.3 L1452.4,383.3 M1452.4,377.9 L1452.4,372.9 M1452.4,367.5 L1452.4,362.5 M1452.4,357 L1452.4,352 M1452.4,346.6 L1452.4,341.6 M1452.4,336.2 L1452.4,331.2 M1452.4,325.8 L1452.4,320.8 M1452.4,315.4 L1452.4,310.4 M1452.4,304.9 L1452.4,299.9 M1452.4,294.5 L1452.4,289.5 M1452.4,284.1 L1452.4,279.1 M1452.4,273.7 L1452.4,268.7 M1452.4,263.3 L1452.4,258.3 M1452.4,252.8 L1452.4,247.8 M1452.4,242.4 L1452.4,237.4 M1452.4,232 L1452.4,227 M1452.4,221.6 L1452.4,216.6 M1452.4,211.2 L1452.4,206.2 M1452.4,200.7 L1452.4,195.7" fill="none" stroke="#000" stroke-width="5.1"/>
<path d="M1452.4,195.4 L1447.9,193.2 M1443.1,190.7 L1438.6,188.5 M1433.8,186.1 L1429.3,183.8 M1424.4,181.4 L1420,179.2 M1415.1,176.8 L1410.6,174.5 M1405.8,172.1 L1401.3,169.9 M1396.5,167.4 L1392,165.2 M1387.2,162.8 L1382.7,160.5 M1377.8,158.1 L1373.4,155.9 M1368.5,153.5 L1364,151.2 M1359.2,148.8 L1354.7,146.6 M1349.9,144.1 L1345.4,141.9 M1340.6,139.5 L1336.1,137.2 M1331.2,134.8 L1326.8,132.6 M1321.9,130.2 L1317.4,127.9 M1312.6,125.5 L1308.1,123.3 M1303.3,120.8 L1298.8,118.6 M1294,116.2 L1289.5,113.9 M1284.6,111.5 L1280.2,109.3 M1275.3,106.9 L1270.8,104.6" fill="none" stroke="#000" stroke-width="5.1"/>
</svg>
</body></html>
